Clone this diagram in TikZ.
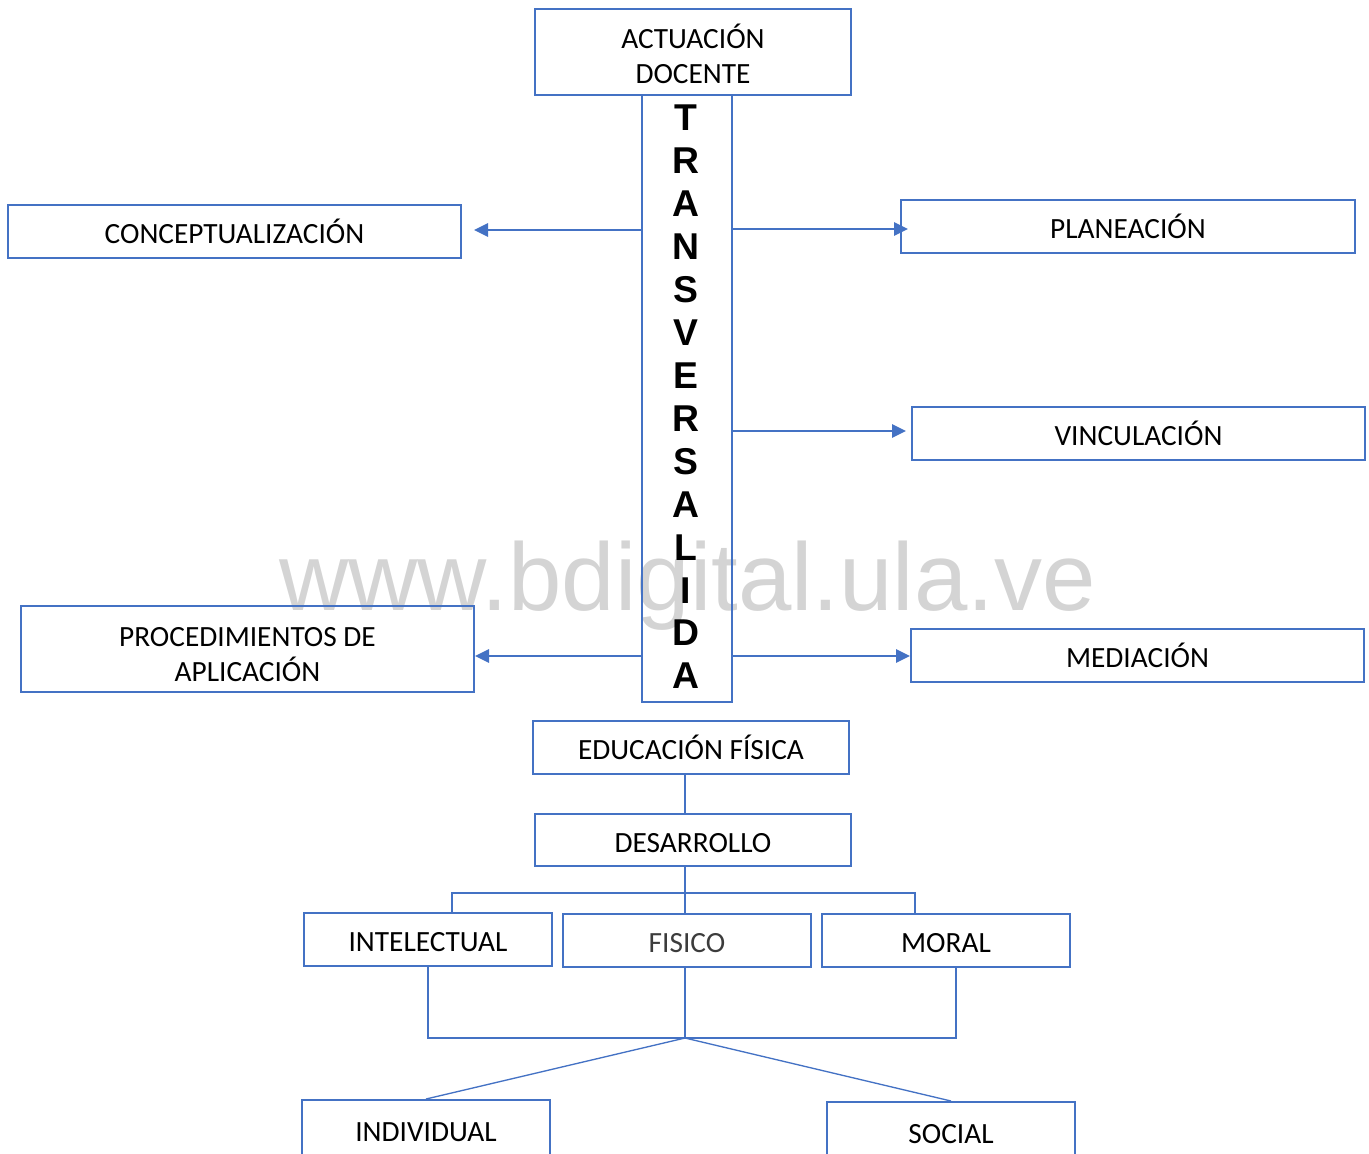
\documentclass[tikz,border=0pt]{standalone}
\usepackage{fontspec}
\setmainfont{Carlito}
\newfontfamily\arialfont{Liberation Sans}
\usetikzlibrary{arrows.meta}
\definecolor{boxblue}{RGB}{68,114,196}
\definecolor{wmgray}{RGB}{212,212,212}
\definecolor{fisgray}{RGB}{60,60,60}
\begin{document}
\begin{tikzpicture}[x=0.75pt,y=-0.75pt,
  box/.style={draw=boxblue, line width=1.5pt, minimum height=39.75pt, inner sep=0pt,
    font=\fontsize{22}{26.5}\selectfont, text height=18.7pt, text depth=0pt},
  txt/.style={inner sep=0pt, font=\fontsize{22}{26.5}\selectfont, align=center},
  wide/.style={minimum width=339.75pt},
  mid/.style={minimum width=237pt},
  small/.style={minimum width=186pt},
  arr/.style={draw=boxblue, line width=2.1pt, -{Triangle[length=10.5pt,width=9.75pt]}},
  link/.style={draw=boxblue, line width=1pt},
]
\useasboundingbox (0,0) rectangle (1369,1153);
\clip (0,0) rectangle (1369,1153);

% watermark
\node[font=\arialfont\fontsize{72}{72}\selectfont, text=wmgray, anchor=base west, inner sep=0pt] (wm) at (279,610) {www.bdigital.ula.ve};

% top and central column
\node[box, mid, minimum height=64.5pt] (act) at (693,52) {};
\node[txt] (acttext) at ([yshift=-1.2pt]act.center) {ACTUACIÓN\\DOCENTE};
\node[box, minimum width=67.5pt, minimum height=455.25pt] (tb) at (687,398.5) {};
\node[font=\arialfont\bfseries\fontsize{28}{32.2}\selectfont, align=center, inner sep=0pt] (letters) at (686,397)
  {T\\R\\A\\N\\S\\V\\E\\R\\S\\A\\L\\I\\D\\A};

% side boxes
\node[box, wide] (conc) at (234.5,231.5) {CONCEPTUALIZACIÓN};
\node[box, minimum width=340.5pt] (plan) at (1128,226.5) {PLANEACIÓN};
\node[box, wide] (vinc) at (1138.5,433.5) {VINCULACIÓN};
\node[box, wide, minimum height=64.5pt] (proc) at (247.5,649) {};
\node[txt] (proctext) at ([yshift=-4.1pt]proc.center) {PROCEDIMIENTOS DE\\APLICACIÓN};
\node[box, wide] (med) at (1137.5,655.5) {MEDIACIÓN};

% arrows
\draw[arr, shorten >=9pt] (tb.west |- 0,230) -- (conc.east |- 0,230);
\draw[arr, shorten >=-6pt] (tb.east |- 0,229) -- (plan.west |- 0,229);
\draw[arr, shorten >=3.75pt] (tb.east |- 0,431) -- (vinc.west |- 0,431);
\draw[arr] (tb.west |- 0,656) -- (proc.east |- 0,656);
\draw[arr] (tb.east |- 0,656) -- (med.west |- 0,656);

% lower tree
\node[box, mid] (edu) at (691,747.5) {EDUCACIÓN FÍSICA};
\node[box, mid, minimum height=39pt] (des) at (693,840) {DESARROLLO};
\node[box, small] (int) at (428,939.5) {INTELECTUAL};
\node[box, small, text=fisgray] (fis) at (687,940.5) {FISICO};
\node[box, small] (mor) at (946,940.5) {MORAL};
\node[box, small, minimum height=43.5pt] (ind) at (426,1129) {INDIVIDUAL};
\node[box, small, minimum height=43.5pt] (soc) at (951,1131) {SOCIAL};

\coordinate (j1) at (452,893);
\coordinate (j2) at (915,893);
\coordinate (j3) at (685,1038);
\coordinate (j4) at (956,1038);

\draw[link, line width=1.2pt] (j3 |- edu.south) -- (j3 |- des.north);
\draw[link] (j3 |- des.south) -- (j3 |- fis.north);
\draw[link] (j1 |- int.north) -- (j1) -- (j2) -- (j2 |- mor.north);
\draw[link] (int.south) -- (int.south |- j3) -- (j4) -- (j4 |- mor.south);
\draw[link] (j3 |- fis.south) -- (j3);
\draw[link] (j3) -- (ind.north);
\draw[link] (j3) -- (soc.north);
\end{tikzpicture}
\end{document}
